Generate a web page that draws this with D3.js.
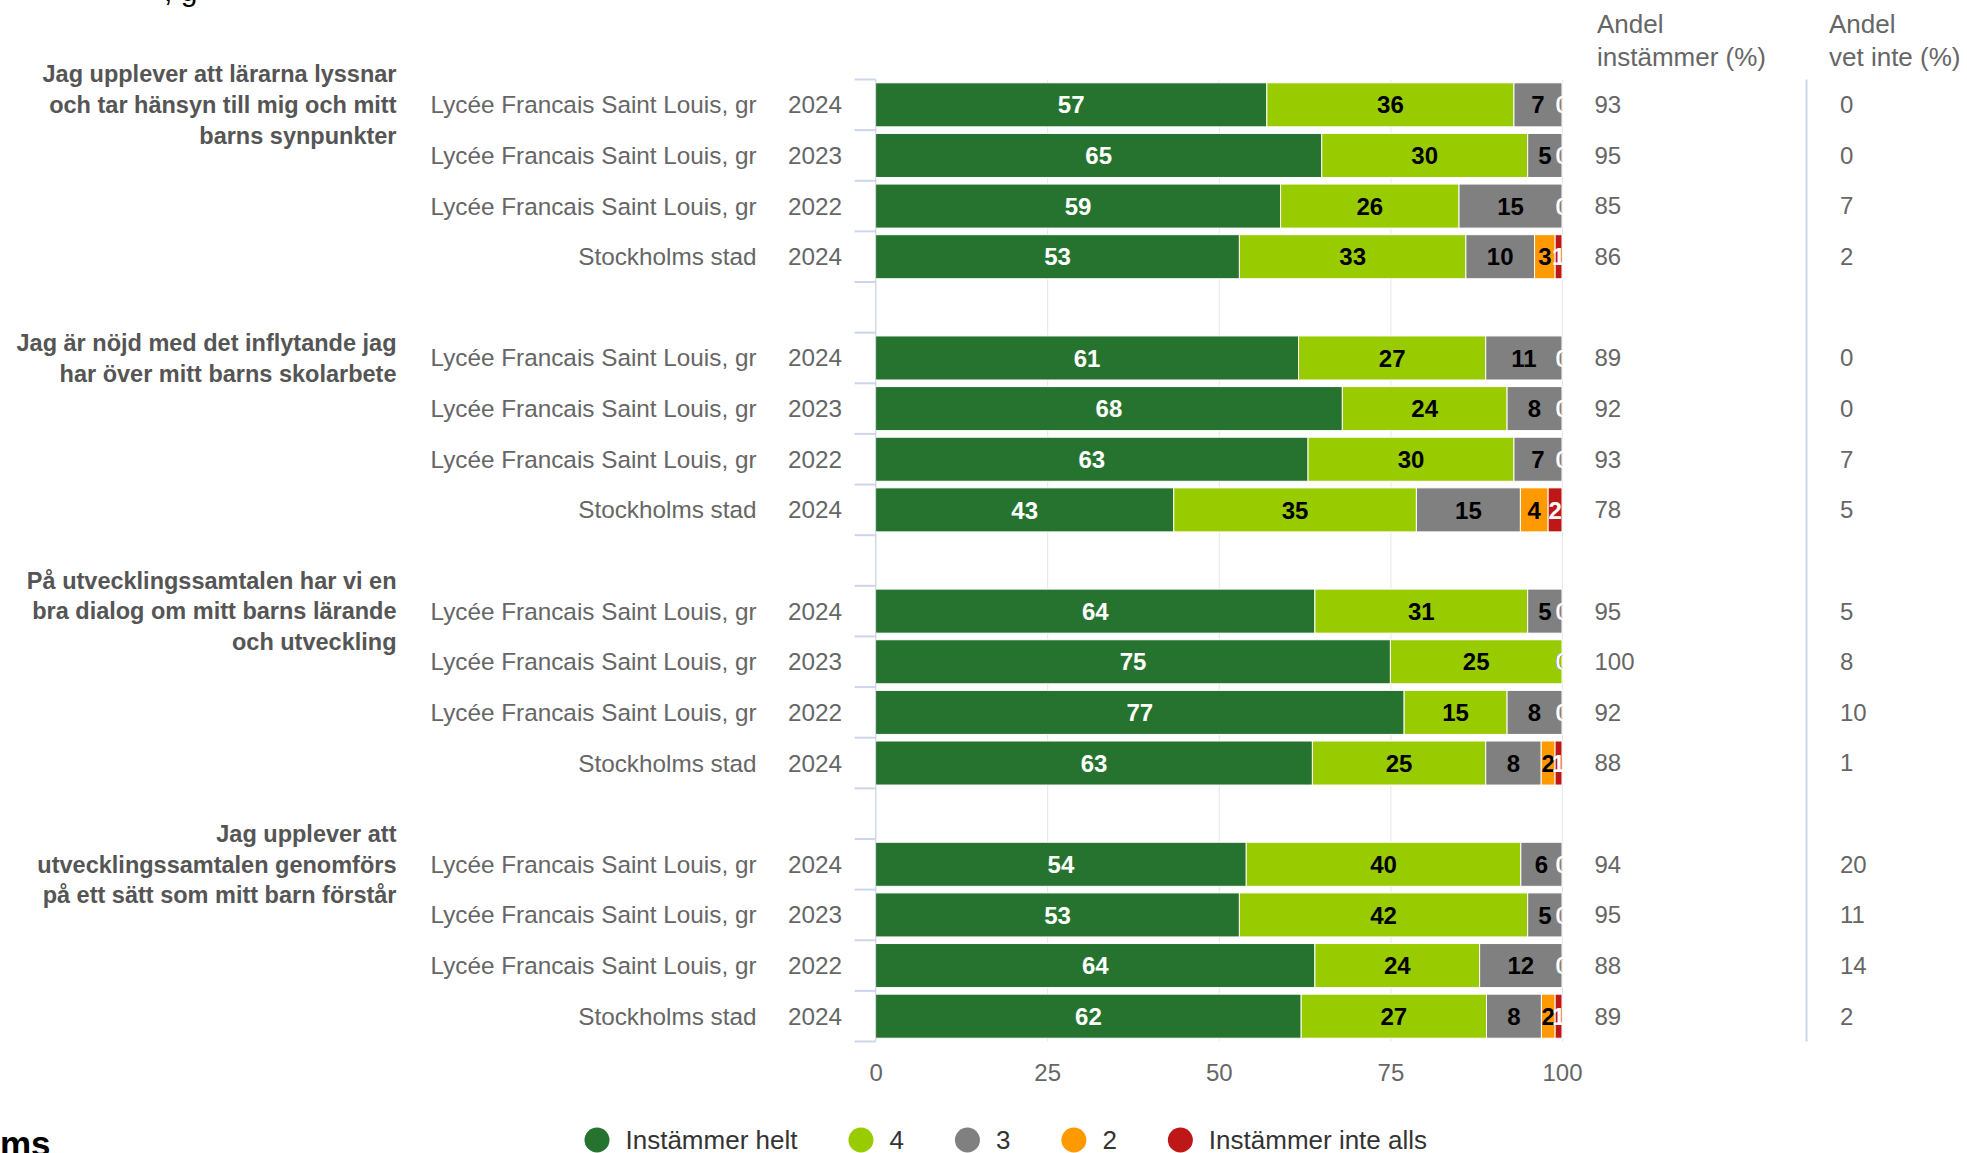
<!DOCTYPE html>
<html>
<head>
<meta charset="utf-8">
<script src="https://cdn.jsdelivr.net/npm/d3@7"></script>
<style>
  body { margin: 0; background: #fff; }
  svg { font-family: "Liberation Sans", Arial, sans-serif; display: block; }
</style>
</head>
<body>
<div id="chart"></div>
<script>
var w = 1967;
var h = 1153;

// data
var questions = [
  ["Jag upplever att lärarna lyssnar", "och tar hänsyn till mig och mitt", "barns synpunkter"],
  ["Jag är nöjd med det inflytande jag", "har över mitt barns skolarbete"],
  ["På utvecklingssamtalen har vi en", "bra dialog om mitt barns lärande", "och utveckling"],
  ["Jag upplever att", "utvecklingssamtalen genomförs", "på ett sätt som mitt barn förstår"]
];
var units = ["Lycée Francais Saint Louis, gr", "Lycée Francais Saint Louis, gr", "Lycée Francais Saint Louis, gr", "Stockholms stad"];
var years = ["2024", "2023", "2022", "2024"];

var seriesNames = ["Instämmer helt", "4", "3", "2", "Instämmer inte alls"];
var seriesColors = ["#267330", "#99cc00", "#808080", "#ff9900", "#be1717"];
var labelColors = ["#fff", "#000", "#000", "#000", "#fff"];

var helt     = [57, 65, 59, 53,  61, 68, 63, 43,  64, 75, 77, 63,  54, 53, 64, 62];
var fyra     = [36, 30, 26, 33,  27, 24, 30, 35,  31, 25, 15, 25,  40, 42, 24, 27];
var tre      = [7, 5, 15, 10,    11, 8, 7, 15,    5, 0, 8, 8,      6, 5, 12, 8];
var tva      = [0, 0, 0, 3,      0, 0, 0, 4,      0, 0, 0, 2,      0, 0, 0, 2];
var inteAlls = [0, 0, 0, 1,      0, 0, 0, 2,      0, 0, 0, 1,      0, 0, 0, 1];

var andelInstammer = [93, 95, 85, 86,  89, 92, 93, 78,  95, 100, 92, 88,  94, 95, 88, 89];
var andelVetInte   = [0, 0, 7, 2,      0, 0, 7, 5,      5, 8, 10, 1,      20, 11, 14, 2];

var xTicks = [0, 25, 50, 75, 100];

// build rows, one blank slot between groups
var rows = helt.map(function(v, i) {
  return {
    i: i,
    slot: Math.floor(i / 4) * 5 + (i % 4),
    unit: units[i % 4],
    year: years[i % 4],
    "Instämmer helt": v,
    "4": fyra[i],
    "3": tre[i],
    "2": tva[i],
    "Instämmer inte alls": inteAlls[i]
  };
});

var plotTop = 79.5, plotBottom = 1041.5;
var plotLeft = 875.6, plotRight = 1562;

var x = d3.scaleLinear()
          .domain([0, 100])
          .range([plotLeft, plotRight]);

var y = d3.scaleBand()
          .domain(d3.range(19))
          .range([plotTop, plotBottom])
          .paddingInner(0.13)
          .paddingOuter(0.065);

var stack = d3.stack()
              .keys(seriesNames)
              .offset(d3.stackOffsetExpand);
var layers = stack(rows);

var svg = d3.select("#chart")
            .append("svg")
            .attr("width", w)
            .attr("height", h);

svg.append("defs").append("clipPath")
   .attr("id", "plotclip")
   .append("rect")
   .attr("x", plotLeft)
   .attr("y", plotTop)
   .attr("width", plotRight - plotLeft + 1)
   .attr("height", plotBottom - plotTop);

// grid lines
svg.append("g")
   .attr("transform", "translate(0," + plotBottom + ")")
   .call(d3.axisBottom(x).tickValues(xTicks).tickSize(-(plotBottom - plotTop)).tickFormat(""))
   .call(function(g) { g.select(".domain").remove(); })
   .selectAll("line")
   .attr("stroke", "#e6e6e6");

// x axis labels
svg.append("g")
   .attr("transform", "translate(0," + plotBottom + ")")
   .call(d3.axisBottom(x).tickValues(xTicks).tickSize(0).tickPadding(22))
   .call(function(g) { g.select(".domain").remove(); })
   .selectAll("text")
   .attr("font-size", 24)
   .attr("font-family", "Liberation Sans, Arial, sans-serif")
   .attr("fill", "#666");

// category axis line and tick marks between bands
svg.append("line")
   .attr("x1", plotLeft).attr("x2", plotLeft)
   .attr("y1", plotTop).attr("y2", plotBottom)
   .attr("stroke", "#ccd6eb");

svg.append("g")
   .selectAll("line")
   .data(d3.range(20))
   .enter()
   .append("line")
   .attr("x1", plotLeft - 21)
   .attr("x2", plotLeft)
   .attr("y1", function(d) { return plotTop + d * y.step(); })
   .attr("y2", function(d) { return plotTop + d * y.step(); })
   .attr("stroke", "#ccd6eb")
   .attr("stroke-width", 2);

// separator between right columns
svg.append("line")
   .attr("x1", 1806.5).attr("x2", 1806.5)
   .attr("y1", plotTop).attr("y2", plotBottom)
   .attr("stroke", "#ccd6eb")
   .attr("stroke-width", 2);

// bars
var plot = svg.append("g").attr("clip-path", "url(#plotclip)");

var layer = plot.selectAll("g.layer")
                .data(layers)
                .enter()
                .append("g")
                .attr("class", "layer")
                .attr("fill", function(d, i) { return seriesColors[i]; });

layer.selectAll("rect")
     .data(function(d) { return d; })
     .enter()
     .append("rect")
     .attr("x", function(d) { return x(d[0] * 100); })
     .attr("width", function(d) { return Math.max(0, x(d[1] * 100) - x(d[0] * 100)); })
     .attr("y", function(d) { return y(d.data.slot); })
     .attr("height", y.bandwidth())
     .attr("stroke", "#fff")
     .attr("stroke-width", 1);

// data labels
var labels = plot.selectAll("g.labels")
                 .data(layers)
                 .enter()
                 .append("g")
                 .attr("class", "labels")
                 .attr("fill", function(d, i) { return labelColors[i]; });

labels.selectAll("text")
      .data(function(d) { return d.map(function(p) { return {p: p, key: d.key}; }); })
      .enter()
      .append("text")
      .attr("x", function(d) { return x((d.p[0] + d.p[1]) / 2 * 100); })
      .attr("y", function(d) { return y(d.p.data.slot) + y.bandwidth() / 2; })
      .attr("dy", "0.36em")
      .attr("text-anchor", "middle")
      .attr("font-size", 24)
      .attr("font-weight", "bold")
      .text(function(d) { return d.p.data[d.key]; });

// row labels
svg.append("g")
   .selectAll("text")
   .data(rows)
   .enter()
   .append("text")
   .attr("x", 756.5)
   .attr("y", function(d) { return y(d.slot) + y.bandwidth() / 2; })
   .attr("dy", "0.35em")
   .attr("text-anchor", "end")
   .attr("font-size", 24.3)
   .attr("fill", "#666")
   .text(function(d) { return d.unit; });

svg.append("g")
   .selectAll("text")
   .data(rows)
   .enter()
   .append("text")
   .attr("x", 842)
   .attr("y", function(d) { return y(d.slot) + y.bandwidth() / 2; })
   .attr("dy", "0.35em")
   .attr("text-anchor", "end")
   .attr("font-size", 24.3)
   .attr("fill", "#666")
   .text(function(d) { return d.year; });

// question labels, centred on the first row of each group
var qg = svg.append("g")
            .selectAll("text")
            .data(questions)
            .enter()
            .append("text")
            .attr("text-anchor", "end")
            .attr("font-size", 23.5)
            .attr("font-weight", "bold")
            .attr("fill", "#555");

qg.each(function(lines, gi) {
  var cy = y(gi * 5) + y.bandwidth() / 2;
  var t = d3.select(this);
  lines.forEach(function(line, li) {
    t.append("tspan")
     .attr("x", 396.5)
     .attr("y", cy + (li - (lines.length - 1) / 2) * 30.7)
     .attr("dy", "0.35em")
     .text(line);
  });
});

// right columns
svg.append("g")
   .selectAll("text")
   .data(andelInstammer)
   .enter()
   .append("text")
   .attr("x", 1594.5)
   .attr("y", function(d, i) { return y(rows[i].slot) + y.bandwidth() / 2; })
   .attr("dy", "0.35em")
   .attr("font-size", 24)
   .attr("fill", "#666")
   .text(function(d) { return d; });

svg.append("g")
   .selectAll("text")
   .data(andelVetInte)
   .enter()
   .append("text")
   .attr("x", 1840)
   .attr("y", function(d, i) { return y(rows[i].slot) + y.bandwidth() / 2; })
   .attr("dy", "0.35em")
   .attr("font-size", 24)
   .attr("fill", "#666")
   .text(function(d) { return d; });

var headers = [
  {x: 1597, lines: ["Andel", "instämmer (%)"]},
  {x: 1829, lines: ["Andel", "vet inte (%)"]}
];
headers.forEach(function(hd) {
  hd.lines.forEach(function(line, li) {
    svg.append("text")
       .attr("x", hd.x)
       .attr("y", 24 + li * 32.5)
       .attr("dy", "0.35em")
       .attr("font-size", 26)
       .attr("fill", "#666")
       .text(line);
  });
});

// legend
var legend = svg.append("g");
var lx = 597;
seriesNames.forEach(function(name, i) {
  legend.append("circle")
        .attr("cx", lx)
        .attr("cy", 1140)
        .attr("r", 12.5)
        .attr("fill", seriesColors[i]);
  var t = legend.append("text")
                .attr("x", lx + 28.5)
                .attr("y", 1140)
                .attr("dy", "0.35em")
                .attr("font-size", 26)
                .attr("fill", "#333")
                .text(name);
  lx = lx + 28.5 + t.node().getComputedTextLength() + 63.5;
});

// cropped title and logo edges
svg.append("text")
   .attr("x", 164)
   .attr("y", 1)
   .attr("font-size", 30)
   .attr("fill", "#000")
   .text(", g");

svg.append("text")
   .attr("x", 0)
   .attr("y", 1156)
   .attr("font-size", 35)
   .attr("font-weight", "bold")
   .attr("fill", "#000")
   .text("ms");
</script>
</body>
</html>
